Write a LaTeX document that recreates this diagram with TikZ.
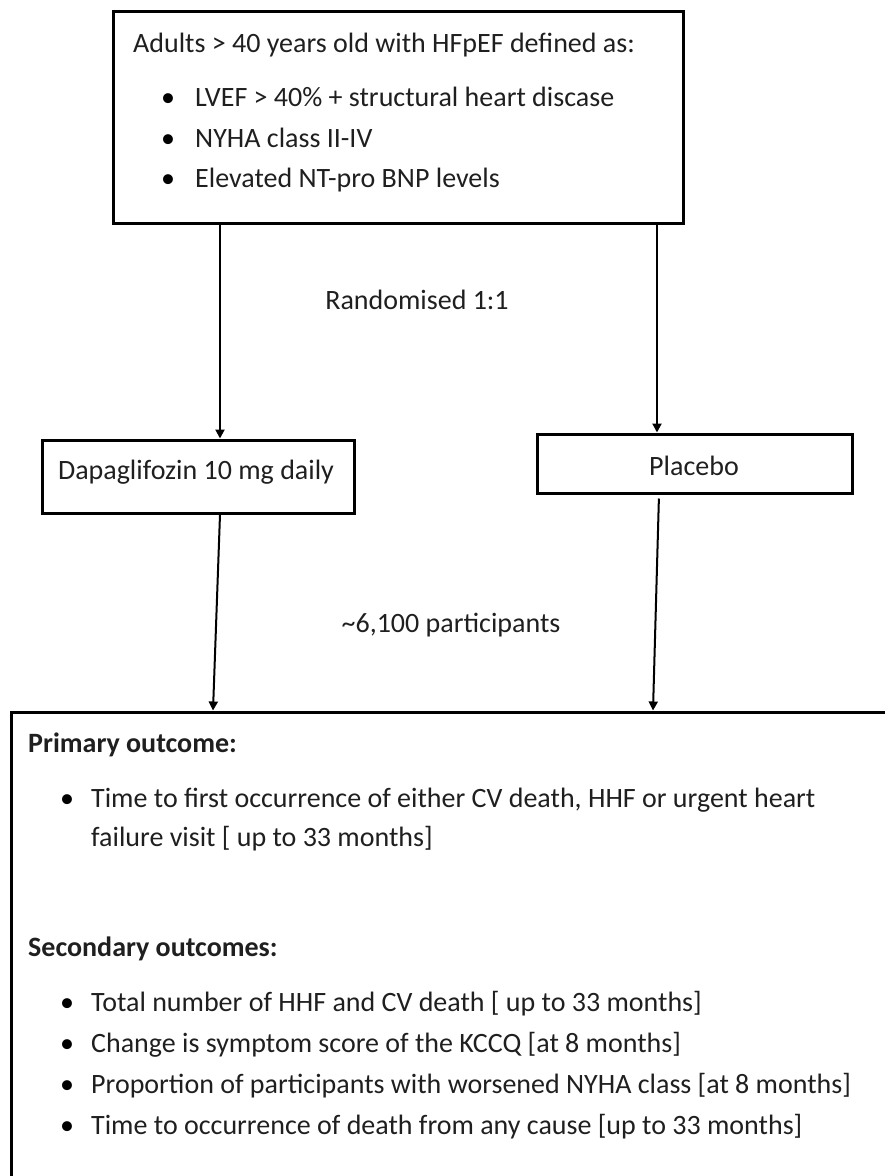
\documentclass[tikz,border=0pt]{standalone}
\usepackage{fontspec}
\setmainfont{Carlito}
\usetikzlibrary{arrows.meta}
\begin{document}
\begin{tikzpicture}[x=1pt,y=-1pt,
  box/.style={draw=black, line width=3pt, inner sep=0pt},
  txt/.style={anchor=base west, inner sep=0pt, font=\fontsize{28}{34}\selectfont, text=black!88},
  ctxt/.style={anchor=center, inner sep=0pt, font=\fontsize{28}{34}\selectfont, text=black!88},
  head/.style={txt, font=\fontsize{28}{34}\selectfont\bfseries},
  dot/.style={anchor=base, inner sep=0pt, font=\fontsize{28}{34}\selectfont, text=black},
  arr/.style={draw=black, line width=2pt, -{Triangle[length=9pt,width=9pt]}}
]
\useasboundingbox (0,0) rectangle (885,1176);
\clip (0,0) rectangle (885,1176);

% boxes
\node[box, minimum width=570pt, minimum height=212pt] (top) at (398,117) {};
\node[box, minimum width=312pt, minimum height=73pt] (dap) at (198,476.5) {};
\node[box, minimum width=315pt, minimum height=59pt] (pla) at (694.5,463.5) {};
\node[box, minimum width=900pt, minimum height=500pt] (out) at (461,962) {};

% population
\node[txt] (t0) at (133,52) {Adults > 40 years old with HFpEF defined as:};
\node[dot] (b1) at (168,106) {•};
\node[txt] (t1) at (195,106) {LVEF > 40\% + structural heart discase};
\node[dot] (b2) at (168,147) {•};
\node[txt] (t2) at (195,147) {NYHA class II-IV};
\node[dot] (b3) at (168,187) {•};
\node[txt] (t3) at (195,187) {Elevated NT-pro BNP levels};

% arms
\node[ctxt] (rand) at (417,300) {Randomised 1:1};
\node[ctxt] (dapt) at (196,472) {Dapaglifozin 10 mg daily};
\node[ctxt] (plat) at (694,466) {Placebo};
\node[ctxt] (npart) at (451,625) {\textasciitilde6,100 participants};

% outcomes
\node[head] (h1) at (28,752) {Primary outcome:};
\node[dot] (c1) at (67,807) {•};
\node[txt] (o1) at (91,807) {Time to first occurrence of either CV death, HHF or urgent heart};
\node[txt] (o1b) at (91,846) {failure visit [ up to 33 months]};
\node[head] (h2) at (28,956) {Secondary outcomes:};
\node[dot] (c2) at (67,1011) {•};
\node[txt] (o2) at (91,1011) {Total number of HHF and CV death [ up to 33 months]};
\node[dot] (c3) at (67,1052) {•};
\node[txt] (o3) at (91,1052) {Change is symptom score of the KCCQ [at 8 months]};
\node[dot] (c4) at (67,1093) {•};
\node[txt] (o4) at (91,1093) {Proportion of participants with worsened NYHA class [at 8 months]};
\node[dot] (c5) at (67,1134) {•};
\node[txt] (o5) at (91,1134) {Time to occurrence of death from any cause [up to 33 months]};

% connector columns
\coordinate (colL) at (220,0);
\coordinate (colR) at (657,0);
\coordinate (colLb) at (213,0);
\coordinate (colRa) at (659,0);
\coordinate (colRb) at (653,0);

\draw[arr] (top.south -| colL) -- (dap.north -| colL);
\draw[arr] (top.south -| colR) -- (pla.north -| colR);
\draw[arr] (dap.south -| colL) -- (out.north -| colLb);
\draw[arr, shorten <=4pt] (pla.south -| colRa) -- (out.north -| colRb);
\end{tikzpicture}
\end{document}
